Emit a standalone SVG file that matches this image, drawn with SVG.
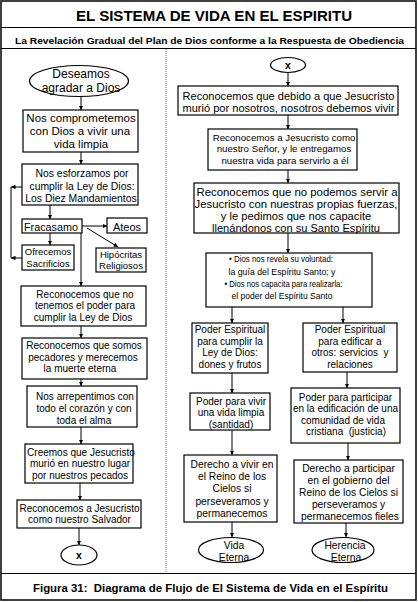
<svg xmlns="http://www.w3.org/2000/svg" width="418" height="602" viewBox="0 0 418 602">
<defs>
<marker id="ah" viewBox="0 0 6 6" markerWidth="4.5" markerHeight="4.5" refX="6" refY="3" orient="auto" markerUnits="userSpaceOnUse"><path d="M0,0 L6,3 L0,6 z" fill="#000"/></marker>
<style>
.b{fill:#fff;stroke:#000;stroke-width:1.2}
.t{font-family:"Liberation Sans",Arial,sans-serif;fill:#000;text-anchor:middle}
.c line,.c path{stroke:#000;stroke-width:1;fill:none;marker-end:url(#ah)}
</style>
</defs>
<rect x="0" y="0" width="418" height="602" fill="#fff"/>
<g id="frame">
<rect x="1" y="1" width="415" height="599" fill="none" stroke="#000" stroke-width="1.5"/>
<line x1="1" y1="27.5" x2="416" y2="27.5" stroke="#000" stroke-width="1.2"/>
<line x1="1" y1="48.5" x2="416" y2="48.5" stroke="#000" stroke-width="1.2"/>
<line x1="1" y1="573.5" x2="416" y2="573.5" stroke="#000" stroke-width="1.2"/>
<line x1="166" y1="49" x2="166" y2="573" stroke="#777" stroke-width="1" stroke-dasharray="1 1"/>
</g>
<g id="title">
<text class="t" x="214" y="21" font-size="15" font-weight="bold" textLength="276" lengthAdjust="spacingAndGlyphs">EL SISTEMA DE VIDA EN EL ESPIRITU</text>
<text class="t" x="209.5" y="43.5" font-size="9.8" font-weight="bold" textLength="389" lengthAdjust="spacingAndGlyphs">La Revelación Gradual del Plan de Dios conforme a la Respuesta de Obediencia</text>
</g>
<g id="caption">
<text class="t" x="210.5" y="592" font-size="10.8" font-weight="bold" textLength="355" lengthAdjust="spacingAndGlyphs">Figura 31:&#160; Diagrama de Flujo de El Sistema de Vida en el Espíritu</text>
</g>

<g class="c" id="connectors">
<line x1="81" y1="97" x2="81" y2="110"/>
<line x1="81" y1="152" x2="81" y2="164"/>
<line x1="50" y1="205" x2="50" y2="219"/>
<line x1="82" y1="226" x2="107" y2="226"/>
<line x1="87" y1="228" x2="118" y2="247"/>
<line x1="50" y1="233" x2="50" y2="245"/>
<line x1="81" y1="233" x2="81" y2="286"/>
<line x1="22" y1="258" x2="11" y2="258"/>
<line x1="11" y1="258" x2="11" y2="187" style="marker-end:none"/>
<line x1="22" y1="187" x2="11" y2="187"/>
<line x1="81" y1="326" x2="81" y2="338"/>
<line x1="81" y1="379" x2="81" y2="386"/>
<line x1="81" y1="427" x2="81" y2="444"/>
<line x1="80" y1="483" x2="80" y2="500"/>
<line x1="79" y1="528" x2="79" y2="545"/>
<line x1="288" y1="73" x2="288" y2="86"/>
<line x1="288" y1="115" x2="288" y2="129"/>
<line x1="288" y1="170" x2="288" y2="183"/>
<line x1="288" y1="233" x2="288" y2="253"/>
<line x1="232" y1="307" x2="232" y2="323"/>
<line x1="343" y1="307" x2="343" y2="323"/>
<line x1="232" y1="373" x2="232" y2="393"/>
<line x1="347" y1="372" x2="347" y2="388"/>
<line x1="232" y1="430" x2="232" y2="455"/>
<line x1="348" y1="443" x2="348" y2="460"/>
<line x1="232" y1="522" x2="232" y2="537"/>
<line x1="346" y1="523" x2="346" y2="537"/>
</g>

<g id="n-deseamos"><ellipse class="b" cx="79" cy="81" rx="49.5" ry="15.5"/>
<text class="t" x="81" y="78" font-size="12">Deseamos</text>
<text class="t" x="81" y="92" font-size="12">agradar a Dios</text></g>

<g id="n-comprometemos"><rect class="b" x="23" y="110" width="115" height="42"/>
<text class="t" x="81" y="122" font-size="11.5">Nos comprometemos</text>
<text class="t" x="80" y="135" font-size="11.5">con Dios a vivir una</text>
<text class="t" x="81" y="148" font-size="11.5">vida limpia</text></g>

<g id="n-esforzamos"><rect class="b" x="22" y="164" width="116" height="41"/>
<text class="t" x="82" y="176.5" font-size="10.4">Nos esforzamos por</text>
<text class="t" x="82" y="189.5" font-size="10.4">cumplir la Ley de Dios:</text>
<text class="t" x="81" y="202" font-size="10.4">Los Diez Mandamientos</text></g>

<g id="n-fracasamo"><rect class="b" x="22" y="219" width="60" height="14"/>
<text class="t" x="51" y="231" font-size="11.5" textLength="54" lengthAdjust="spacingAndGlyphs">Fracasamo</text></g>

<g id="n-ateos"><rect class="b" x="107" y="218" width="40" height="15"/>
<text class="t" x="127" y="230.5" font-size="11">Ateos</text></g>

<g id="n-ofrecemos"><rect class="b" x="22" y="245" width="52" height="25"/>
<text class="t" x="48" y="255" font-size="9.5">Ofrecemos</text>
<text class="t" x="48" y="266.5" font-size="9.5">Sacrificios</text></g>

<g id="n-hipocritas"><rect class="b" x="96" y="248" width="50" height="24"/>
<text class="t" x="121" y="257.5" font-size="9.5">Hipócritas</text>
<text class="t" x="121" y="269" font-size="9.5">Religiosos</text></g>

<g id="n-nopoder"><rect class="b" x="21" y="286" width="125" height="40"/>
<text class="t" x="85" y="297.5" font-size="10">Reconocemos que no</text>
<text class="t" x="85" y="309" font-size="10">tenemos el poder para</text>
<text class="t" x="83" y="320.5" font-size="10">cumplir la Ley de Dios</text></g>

<g id="n-pecadores"><rect class="b" x="22" y="338" width="125" height="41"/>
<text class="t" x="84" y="349" font-size="10">Reconocemos que somos</text>
<text class="t" x="83" y="360.5" font-size="10">pecadores y merecemos</text>
<text class="t" x="80" y="372" font-size="10">la muerte eterna</text></g>

<g id="n-arrepentimos"><rect class="b" x="27" y="386" width="110" height="41"/>
<text class="t" x="85" y="400" font-size="10">Nos arrepentimos con</text>
<text class="t" x="84" y="412" font-size="10">todo el corazón y con</text>
<text class="t" x="84" y="423.5" font-size="10">toda el alma</text></g>

<g id="n-creemos"><rect class="b" x="25" y="444" width="108" height="39"/>
<text class="t" x="81" y="455.5" font-size="10">Creemos que Jesucristo</text>
<text class="t" x="80" y="467" font-size="10">murió en nuestro lugar</text>
<text class="t" x="80" y="478.5" font-size="10">por nuestros pecados</text></g>

<g id="n-salvador"><rect class="b" x="17" y="500" width="124" height="28"/>
<text class="t" x="79.5" y="511.5" font-size="10">Reconocemos a Jesucristo</text>
<text class="t" x="79.5" y="523" font-size="10">como nuestro Salvador</text></g>

<g id="n-x1"><ellipse class="b" cx="79" cy="555" rx="18" ry="10"/>
<text class="t" x="79" y="559" font-size="10.5" font-weight="bold">x</text></g>

<g id="n-x2"><ellipse class="b" cx="288" cy="65" rx="17.5" ry="7.5"/>
<text class="t" x="288" y="69" font-size="10.5" font-weight="bold">x</text></g>

<g id="n-debido"><rect class="b" x="178" y="86" width="220" height="29"/>
<text class="t" x="288.5" y="99.5" font-size="11.2" textLength="212" lengthAdjust="spacingAndGlyphs">Reconocemos que debido a que Jesucristo</text>
<text class="t" x="288.5" y="112" font-size="11.2" textLength="212" lengthAdjust="spacingAndGlyphs">murió por nosotros, nosotros debemos vivir</text></g>

<g id="n-senor"><rect class="b" x="208" y="129" width="149" height="41"/>
<text class="t" x="284" y="140.5" font-size="9.7">Reconocemos a Jesucristo como</text>
<text class="t" x="284" y="152" font-size="9.7">nuestro Señor, y le entregamos</text>
<text class="t" x="285" y="163.5" font-size="9.7">nuestra vida para servirlo a él</text></g>

<g id="n-nopodemos"><rect class="b" x="194" y="183" width="205" height="50"/>
<text class="t" x="297" y="196" font-size="11.2" textLength="201" lengthAdjust="spacingAndGlyphs">Reconocemos que no podemos servir a</text>
<text class="t" x="296" y="208" font-size="11.2" textLength="203" lengthAdjust="spacingAndGlyphs">Jesucristo con nuestras propias fuerzas,</text>
<text class="t" x="296" y="220" font-size="11.2">y le pedimos que nos capacite</text>
<text class="t" x="296" y="231.5" font-size="11.2" textLength="168" lengthAdjust="spacingAndGlyphs">llenándonos con su Santo Espíritu</text></g>

<g id="n-revela"><rect class="b" x="206" y="253" width="166" height="54"/>
<text class="t" x="281" y="262" font-size="9.8" textLength="104" lengthAdjust="spacingAndGlyphs">• Dios nos revela su voluntad:</text>
<text class="t" x="282" y="274.5" font-size="9.8" textLength="107" lengthAdjust="spacingAndGlyphs">la guía del Espíritu Santo; y</text>
<text class="t" x="283.5" y="286.5" font-size="9.8" textLength="118" lengthAdjust="spacingAndGlyphs">• Dios nos capacita para realizarla:</text>
<text class="t" x="282" y="298.5" font-size="9.8" textLength="101" lengthAdjust="spacingAndGlyphs">el poder del Espíritu Santo</text></g>

<g id="n-cumplir"><rect class="b" x="192" y="323" width="76" height="50"/>
<text class="t" x="230" y="333" font-size="10">Poder Espiritual</text>
<text class="t" x="230" y="344.5" font-size="10">para cumplir la</text>
<text class="t" x="230" y="356" font-size="10">Ley de Dios:</text>
<text class="t" x="230" y="368" font-size="10">dones y frutos</text></g>

<g id="n-edificar"><rect class="b" x="303" y="323" width="94" height="49"/>
<text class="t" x="350" y="333" font-size="10">Poder Espiritual</text>
<text class="t" x="350" y="344.5" font-size="10">para edificar a</text>
<text class="t" x="350" y="356" font-size="10">otros: servicios&#160; y</text>
<text class="t" x="350" y="368" font-size="10">relaciones</text></g>

<g id="n-santidad"><rect class="b" x="190" y="393" width="80" height="37"/>
<text class="t" x="231" y="404.5" font-size="10">Poder para vivir</text>
<text class="t" x="231" y="416" font-size="10">una vida limpia</text>
<text class="t" x="231" y="427.5" font-size="10">(santidad)</text></g>

<g id="n-justicia"><rect class="b" x="291" y="388" width="109" height="55"/>
<text class="t" x="345.5" y="400.5" font-size="10">Poder para participar</text>
<text class="t" x="345.5" y="412" font-size="10">en la edificación de una</text>
<text class="t" x="343" y="423.5" font-size="10">comunidad de vida</text>
<text class="t" x="346" y="435" font-size="10">cristiana&#160; (justicia)</text></g>

<g id="n-vivir"><rect class="b" x="184" y="455" width="93" height="67"/>
<text class="t" x="232" y="468" font-size="10.3">Derecho a vivir en</text>
<text class="t" x="232" y="480" font-size="10.3">el Reino de los</text>
<text class="t" x="232" y="492" font-size="10.3">Cielos si</text>
<text class="t" x="232" y="504.5" font-size="10.3">perseveramos y</text>
<text class="t" x="232" y="516.5" font-size="10.3">permanecemos</text></g>

<g id="n-gobierno"><rect class="b" x="294" y="460" width="109" height="63"/>
<text class="t" x="348.5" y="472" font-size="10.3">Derecho a participar</text>
<text class="t" x="348.5" y="484" font-size="10.3">en el gobierno del</text>
<text class="t" x="348.5" y="496" font-size="10.3">Reino de los Cielos si</text>
<text class="t" x="348.5" y="508" font-size="10.3">perseveramos y</text>
<text class="t" x="350" y="520" font-size="10.3">permanecemos fieles</text></g>

<g id="n-vidaeterna"><ellipse class="b" cx="231" cy="550" rx="32.5" ry="12.5"/>
<text class="t" x="234" y="549" font-size="10.3">Vida</text>
<text class="t" x="234" y="561" font-size="10.3">Eterna</text></g>

<g id="n-herencia"><ellipse class="b" cx="343" cy="550" rx="31" ry="12.5"/>
<text class="t" x="345" y="549" font-size="10.3">Herencia</text>
<text class="t" x="346" y="561" font-size="10.3">Eterna</text></g>
</svg>
